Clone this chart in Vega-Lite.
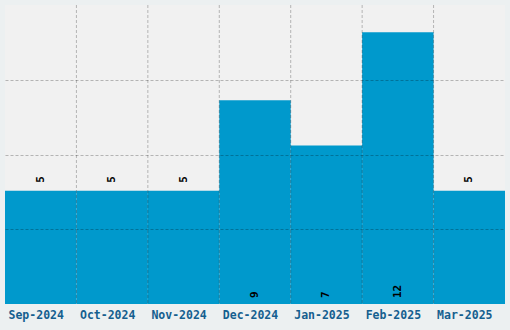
{
  "$schema": "https://vega.github.io/schema/vega-lite/v6.json",
  "width": 500,
  "height": 299,
  "autosize": "none",
  "padding": {"left": 5, "top": 5, "right": 5, "bottom": 26},
  "background": "#ecf0f1",
  "config": {"view": {"fill": "#f1f1f1", "stroke": null}},
  "data": {"values": [
    {"month": "Sep-2024", "count": 5},
    {"month": "Oct-2024", "count": 5},
    {"month": "Nov-2024", "count": 5},
    {"month": "Dec-2024", "count": 9},
    {"month": "Jan-2025", "count": 7},
    {"month": "Feb-2025", "count": 12},
    {"month": "Mar-2025", "count": 5}
  ]},
  "encoding": {
    "x": {"field": "month", "type": "nominal", "sort": null,
      "scale": {"paddingInner": 0, "paddingOuter": 0},
      "axis": {"title": null, "labelAngle": 0, "domain": false, "ticks": false,
        "grid": false, "labelOffset": -4.5,
        "labelFont": "DejaVu Sans Mono", "labelFontWeight": "bold", "labelFontSize": 11.5,
        "labelColor": "#155f8f", "labelPadding": 5}},
    "y": {"field": "count", "type": "quantitative",
      "scale": {"domain": [0, 13.2], "nice": false, "zero": true},
      "axis": {"title": null, "labels": false, "domain": false, "ticks": false,
        "values": [3.3, 6.6, 9.9], "grid": true, "gridColor": "#000000", "gridDash": [3, 2], "gridOpacity": 0.25, "zindex": 1}}
  },
  "layer": [
    {"mark": {"type": "bar", "color": "#0099cc"}},
    {"transform": [{"filter": "datum.month != 'Sep-2024'"}],
     "mark": {"type": "rule", "color": "#000000", "opacity": 0.25, "strokeDash": [3, 2]},
     "encoding": {"x": {"field": "month", "type": "nominal", "sort": null, "bandPosition": 0}, "y": null}},
    {"transform": [{"filter": "datum.count <= 6"}],
     "mark": {"type": "text", "angle": 270, "align": "left", "baseline": "middle", "dx": 8,
       "font": "DejaVu Sans Mono", "fontWeight": "bold", "fontSize": 11, "color": "#000000"},
     "encoding": {"text": {"field": "count"}}},
    {"transform": [{"filter": "datum.count > 6"}],
     "mark": {"type": "text", "angle": 270, "align": "left", "baseline": "middle", "dx": 6,
       "font": "DejaVu Sans Mono", "fontWeight": "bold", "fontSize": 11, "color": "#000000"},
     "encoding": {"text": {"field": "count"}, "y": {"datum": 0}}}
  ]
}
